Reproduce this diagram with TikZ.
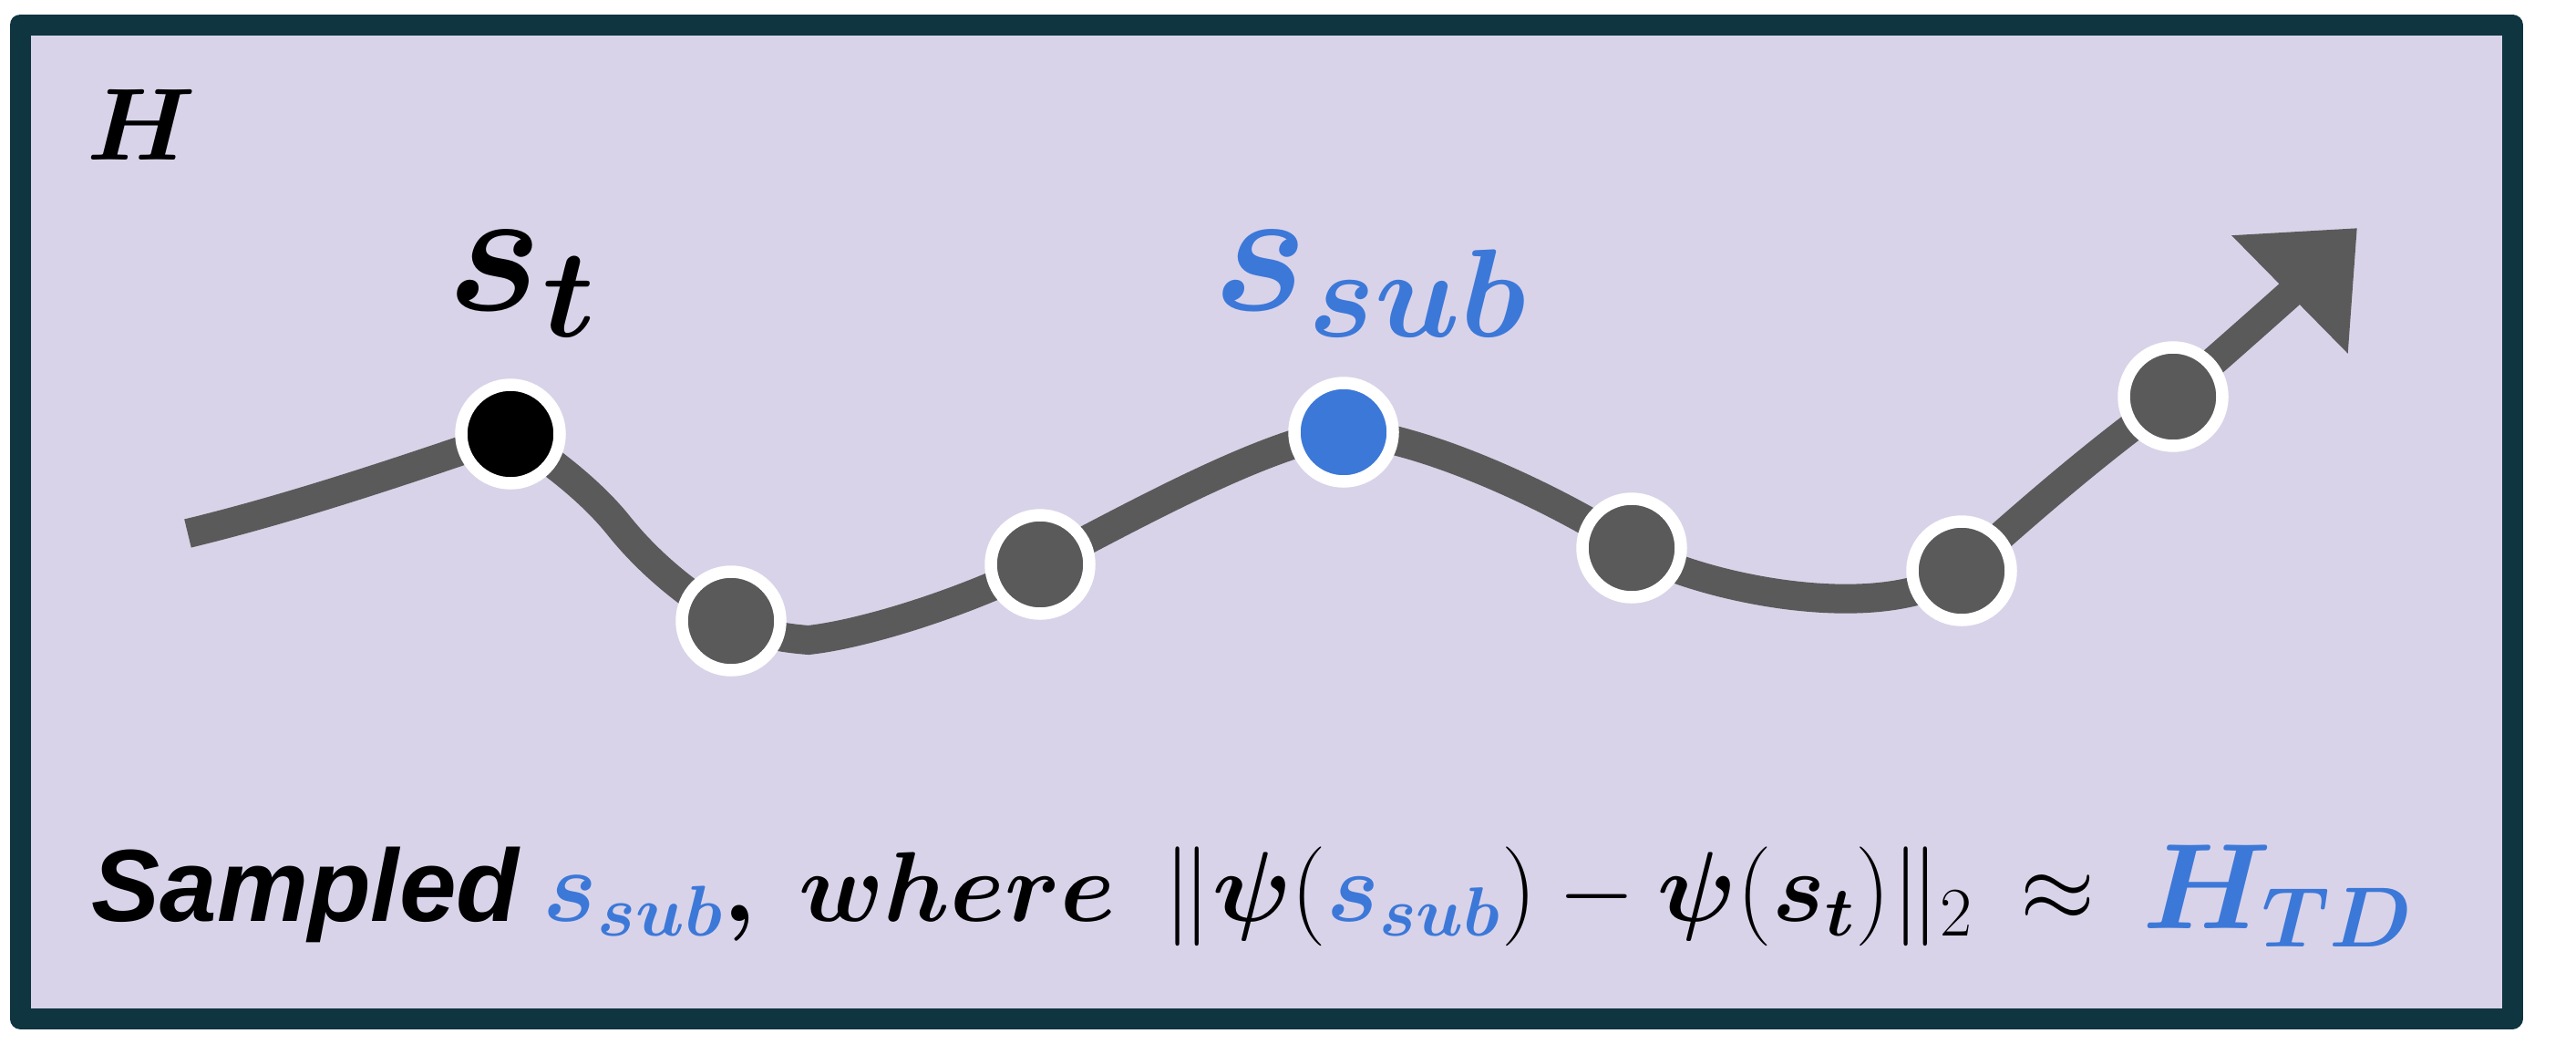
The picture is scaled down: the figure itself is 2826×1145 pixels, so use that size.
\RequirePackage{fix-cm}
\documentclass[tikz,border=0pt]{standalone}
\usepackage{fontspec}
\newfontfamily\arialfont{Liberation Sans}
\usepackage{bm}
\usetikzlibrary{arrows.meta,positioning}
\definecolor{kader}{HTML}{0E3540}
\definecolor{vlak}{HTML}{D9D3E9}
\definecolor{lijngrijs}{HTML}{5A5A5A}
\definecolor{blauw}{HTML}{3C78D8}
\tikzset{
  toestand/.style={circle, draw=white, line width=1.35mm, minimum size=10.8mm, inner sep=0pt},
  traject/.style={lijngrijs, line width=3.2mm, line cap=butt},
  tekst/.style={anchor=base west, inner sep=0pt}
}

\begin{document}
\begin{tikzpicture}[x=0.1mm, y=-0.1mm]
  \useasboundingbox (0,0) rectangle (2826,1145);

  % kader met vlak
  \draw[kader, fill=vlak, line width=2.3mm, line join=round] (22,27) rectangle (2756,1117);
  \node[tekst, font=\fontsize{32}{34}\selectfont] (h) at (95,175) {$\bm{H}$};

  % punten van het traject
  \coordinate (c0) at (206,585);
  \coordinate (pst) at (560,476);
  \coordinate (c1) at (680,578);
  \coordinate (pp1) at (802,681);
  \coordinate (c3) at (887,702);
  \coordinate (pp2) at (1141,619);
  \coordinate (psub) at (1474,474);
  \coordinate (pp3) at (1790,601);
  \coordinate (pp4) at (2152,626);
  \coordinate (pp5) at (2384,435);
  \coordinate (tip) at (2586,250);

  % traject met pijl
  \draw[traject, -{Triangle[length=10.4mm, width=17.5mm]}]
    (c0) .. controls (330,555) and (460,510) .. (pst)
         .. controls (605,505) and (650,540) .. (c1)
         .. controls (710,615) and (750,650) .. (pp1)
         .. controls (830,695) and (860,700) .. (c3)
         .. controls (950,695) and (1060,660) .. (pp2)
         .. controls (1250,562) and (1390,485) .. (psub)
         .. controls (1560,478) and (1710,548) .. (pp3)
         .. controls (1850,640) and (2060,690) .. (pp4)
         .. controls (2220,565) and (2300,495) .. (pp5)
         .. controls (2450,378) and (2520,315) .. (tip);

  % toestanden
  \node[toestand, fill=black] (st) at (pst) {};
  \node[toestand, fill=blauw] (ssub) at (psub) {};
  \foreach \i in {1,...,5}{
    \node[toestand, fill=lijngrijs] (p\i) at (pp\i) {};
  }

  % labels boven de curve
  \node[tekst, font=\fontsize{56}{60}\selectfont] (lst) at (490,340) {$\bm{s_t}$};
  \node[tekst, font=\fontsize{56}{60}\selectfont, text=blauw] (lsub) at (1330,340) {$\bm{s_{sub}}$};

  % onderschrift
  \node[tekst, font=\arialfont\bfseries\itshape\fontsize{32}{36}\selectfont] (sampled) at (100,1010) {Sampled};
  \node[inner sep=0pt, font=\fontsize{32}{36}\selectfont, base right=2.5mm of sampled] (sub)
    {$\textcolor{blauw}{\bm{s_{sub}}}\bm{,}$};
  \node[inner sep=0pt, font=\fontsize{31}{36}\selectfont, base right=4.5mm of sub] (where) {$\bm{where}$};
  \node[inner sep=0pt, font=\fontsize{31}{36}\selectfont, base right=5mm of where] (norm)
    {$\|\bm{\psi}(\textcolor{blauw}{\bm{s_{sub}}}) - \bm{\psi}(\bm{s_t})\|_2$};
  \node[inner sep=0pt, font=\fontsize{30}{36}\selectfont, base right=5mm of norm] (approx) {$\approx$};
  \node[inner sep=0pt, font=\fontsize{38}{44}\selectfont, text=blauw, base right=5mm of approx,
    yshift=-0.8mm] (htd) {$\bm{H_{TD}}$};
\end{tikzpicture}
\end{document}
